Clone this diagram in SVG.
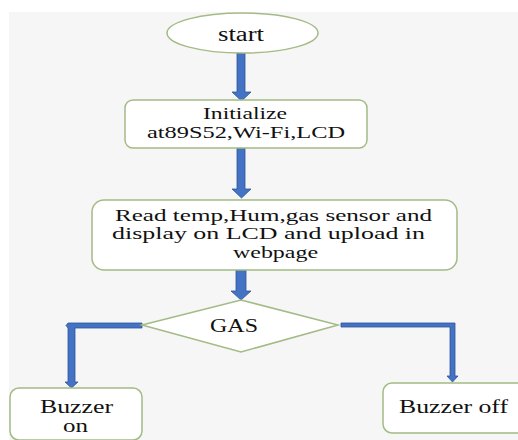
<svg xmlns="http://www.w3.org/2000/svg" width="518" height="440" viewBox="0 0 518 440">
<style>
.node{fill:#ffffff;stroke:#a3bb85;stroke-width:1.5}
.t{font-family:'Liberation Serif','DejaVu Serif','Times New Roman',serif;fill:#111111}
.arr{fill:#4472c4;stroke:#2f5597;stroke-width:0.8;stroke-linejoin:miter}
</style>
<rect x="0" y="0" width="518" height="440" fill="#ffffff"/>
<rect x="9" y="12" width="509" height="428" fill="#f6f6f6"/>
<g id="connectors">
<path class="arr" d="M237,53 H245 V92 H251 L241.5,101 L232,92 H237 Z"/>
<path class="arr" d="M237,148 H245 V189 H251 L241.5,198 L232,189 H237 Z"/>
<path class="arr" d="M236,270 H246 V291 H251 L241,300 L231,291 H236 Z"/>
<path class="arr" d="M142,323 V328 H75 V382 H78 L71.5,388 L65,382 H68 V328 L66,325.5 L68,323 Z"/>
<path class="arr" d="M341,323 H455 V376 H458 L452.5,382 L447,376 H450 V327 H341 Z"/>
</g>
<g id="start">
<ellipse class="node" cx="242.5" cy="33" rx="75.5" ry="20" stroke="#8ea46a"/>
<text class="t" x="218" y="40.5" font-size="20" textLength="46" lengthAdjust="spacingAndGlyphs">start</text>
</g>
<g id="init">
<rect class="node" x="125" y="100" width="242" height="48" rx="8"/>
<text class="t" x="203" y="119" font-size="17" textLength="84" lengthAdjust="spacingAndGlyphs">Initialize</text>
<text class="t" x="147" y="138" font-size="17" textLength="198" lengthAdjust="spacingAndGlyphs">at89S52,Wi-Fi,LCD</text>
</g>
<g id="read">
<rect class="node" x="92" y="200" width="365" height="70" rx="12"/>
<text class="t" x="115" y="221" font-size="16" textLength="317" lengthAdjust="spacingAndGlyphs">Read temp,Hum,gas sensor and</text>
<text class="t" x="112" y="239" font-size="16" textLength="313" lengthAdjust="spacingAndGlyphs">display on LCD and upload in</text>
<text class="t" x="233" y="258" font-size="16" textLength="85" lengthAdjust="spacingAndGlyphs">webpage</text>
</g>
<g id="gas">
<polygon class="node" points="142,325 241,300 338,325 241,352"/>
<text class="t" x="210" y="332" font-size="18" textLength="48" lengthAdjust="spacingAndGlyphs">GAS</text>
</g>
<g id="buzzer-on">
<rect class="node" x="10" y="388" width="132" height="52" rx="9"/>
<text class="t" x="40" y="413" font-size="18" textLength="73" lengthAdjust="spacingAndGlyphs">Buzzer</text>
<text class="t" x="63" y="432" font-size="18" textLength="25" lengthAdjust="spacingAndGlyphs">on</text>
</g>
<g id="buzzer-off">
<rect class="node" x="383" y="383" width="145" height="50" rx="9"/>
<text class="t" x="399" y="413" font-size="18" textLength="109" lengthAdjust="spacingAndGlyphs">Buzzer off</text>
</g>
</svg>
